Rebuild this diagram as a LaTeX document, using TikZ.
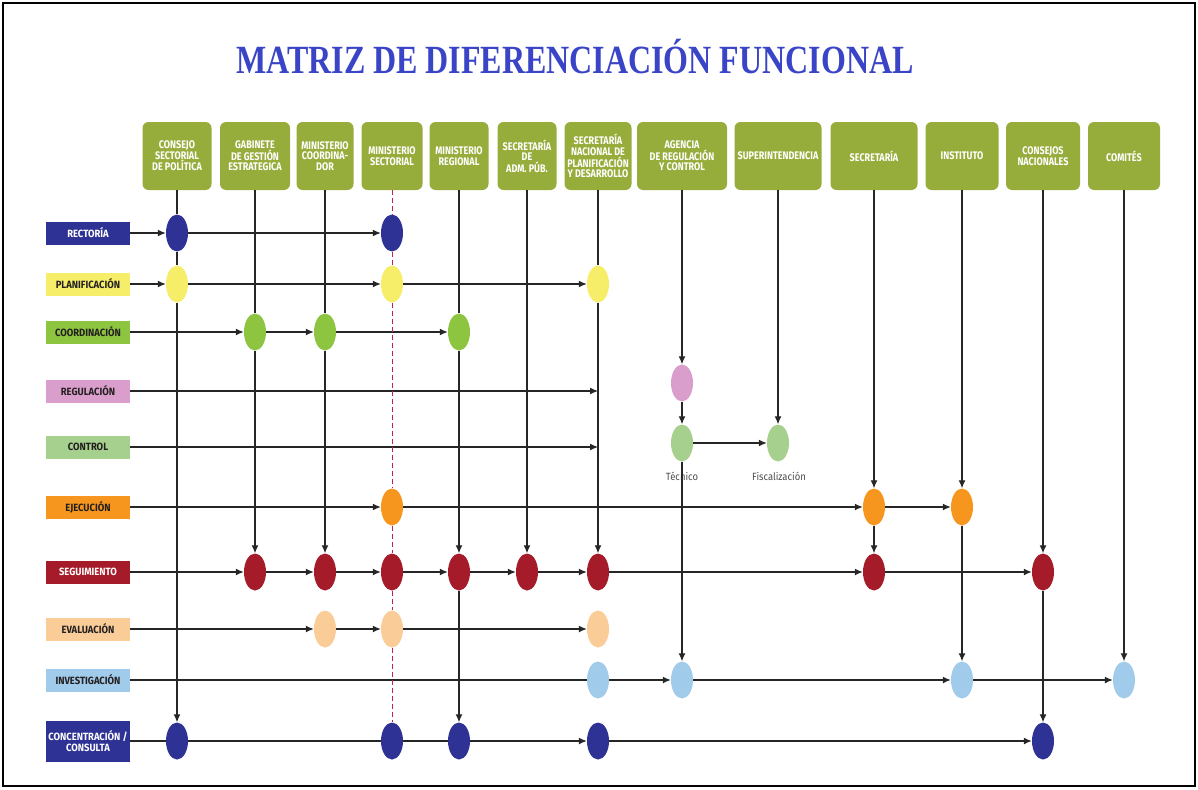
\documentclass[tikz,border=0pt]{standalone}
\usepackage{fontspec}
\setmainfont{Liberation Serif}
\newfontfamily\titlefont[FakeStretch=0.8]{Liberation Serif}
\newfontfamily\headfont[FakeStretch=0.82]{Fira Sans}
\newfontfamily\labfont[FakeStretch=0.9]{Fira Sans}
\usetikzlibrary{arrows.meta,shapes.geometric}
\definecolor{headgreen}{RGB}{151,173,59}
\definecolor{titleblue}{RGB}{58,68,198}
\definecolor{navy}{RGB}{46,50,148}
\definecolor{yell}{RGB}{246,238,105}
\definecolor{cgreen}{RGB}{141,197,64}
\definecolor{pinkc}{RGB}{218,158,204}
\definecolor{lgreen}{RGB}{166,208,142}
\definecolor{orng}{RGB}{246,150,30}
\definecolor{dred}{RGB}{166,27,42}
\definecolor{peach}{RGB}{250,204,152}
\definecolor{lblue}{RGB}{160,203,234}
\definecolor{linegray}{RGB}{38,38,38}
\definecolor{labtext}{RGB}{35,31,32}
\definecolor{sectred}{RGB}{200,35,70}
\begin{document}
\begin{tikzpicture}[x=1pt,y=-1pt,
  head/.style={fill=headgreen,rounded corners=6pt,minimum height=68pt,text=white,
    font=\headfont\bfseries\fontsize{11}{10.5}\selectfont,align=center,inner sep=0pt},
  lab/.style={minimum width=84pt,minimum height=23pt,inner sep=0pt,align=center,
    font=\labfont\bfseries\fontsize{10.5}{11.5}\selectfont},
  dot/.style={ellipse,minimum width=22pt,minimum height=37pt,inner sep=0pt},
  con/.style={draw=linegray,line width=1.2pt},
  arr/.style={con,-{Latex[length=8pt,width=7pt]}},
  mid/.style={draw=sectred,line width=0.9pt,dash pattern=on 5pt off 3pt},
  note/.style={text=black!70,font=\labfont\fontsize{10.5}{12}\selectfont}]
\useasboundingbox (0,0) rectangle (1198,789);
\draw[line width=1.5pt] (3,3) rectangle (1195,786);
\node[text=titleblue,font=\titlefont\bfseries\fontsize{40}{48}\selectfont] (title) at (575,57) {MATRIZ DE DIFERENCIACIÓN FUNCIONAL};
\foreach \n/\x/\w/\t in {1/177/69/{CONSEJO\\SECTORIAL\\DE POLÍTICA},
    2/255/70/{GABINETE\\DE GESTIÓN\\ESTRATEGICA},
    3/325/57/{MINISTERIO\\COORDINA-\\DOR},
    4/392/61/{MINISTERIO\\SECTORIAL},
    5/459/59/{MINISTERIO\\REGIONAL},
    6/527/59/{SECRETARÍA\\DE\\ADM. PÚB.},
    7/598/67/{SECRETARÍA\\NACIONAL DE\\PLANIFICACIÓN\\Y DESARROLLO},
    8/682/90/{AGENCIA\\DE REGULACIÓN\\Y CONTROL},
    9/778/87/{SUPERINTENDENCIA},
    10/874/87/{SECRETARÍA},
    11/962/73/{INSTITUTO},
    12/1043/74/{CONSEJOS\\NACIONALES},
    13/1124/72/{COMITÉS}}
  \node[head,minimum width=\w pt] (h\n) at (\x,156) {\t};
\foreach \n/\y/\c/\tc/\t in {1/233/navy/white/{RECTORÍA},
    2/284/yell/labtext/{PLANIFICACIÓN},
    3/332/cgreen/labtext/{COORDINACIÓN},
    4/391/pinkc/labtext/{REGULACIÓN},
    5/447/lgreen/labtext/{CONTROL},
    6/507/orng/labtext/{EJECUCIÓN},
    7/572/dred/white/{SEGUIMIENTO},
    8/629/peach/labtext/{EVALUACIÓN},
    9/680/lblue/labtext/{INVESTIGACIÓN}}
  \node[lab,fill=\c,text=\tc] (r\n) at (88,\y) {\t};
\node[lab,fill=navy,text=white,minimum height=41pt] (r10) at (88,741) {CONCENTRACIÓN /\\CONSULTA};
\foreach \r/\c/\col in {1/1/navy,1/4/navy,2/1/yell,2/4/yell,2/7/yell,
    3/2/cgreen,3/3/cgreen,3/5/cgreen,6/4/orng,6/10/orng,6/11/orng,
    7/2/dred,7/3/dred,7/4/dred,7/5/dred,7/6/dred,7/7/dred,7/10/dred,7/12/dred,
    8/3/peach,8/4/peach,8/7/peach,9/7/lblue,9/8/lblue,9/11/lblue,9/13/lblue,
    10/1/navy,10/4/navy,10/5/navy,10/7/navy,10/12/navy}
  \node[dot,fill=\col] (e\r-\c) at (h\c |- r\r) {};
\node[dot,fill=pinkc] (e4-8) at (682,383) {};
\node[dot,fill=lgreen] (e5-8) at (682,443) {};
\node[dot,fill=lgreen] (e5-9) at (778,443) {};
\node[note] (tec) at (682,476) {Técnico};
\node[note] (fis) at (779,476) {Fiscalización};
\foreach \a/\b in {h1/e1-1,e1-1/e2-1,h2/e3-2,h3/e3-3,h5/e3-5,h7/e2-7,
    r9/e9-7,r10/e10-1,e10-1/e10-4,e10-4/e10-5}
  \draw[con] (\a) -- (\b);
\foreach \a/\b in {r1/e1-1,e1-1/e1-4,r2/e2-1,e2-1/e2-4,e2-4/e2-7,
    r3/e3-2,e3-2/e3-3,e3-3/e3-5,r6/e6-4,e6-4/e6-10,e6-10/e6-11,
    r7/e7-2,e7-2/e7-3,e7-3/e7-4,e7-4/e7-5,e7-5/e7-6,e7-6/e7-7,e7-7/e7-10,e7-10/e7-12,
    r8/e8-3,e8-3/e8-4,e8-4/e8-7,e9-7/e9-8,e9-8/e9-11,e9-11/e9-13,
    e10-5/e10-7,e10-7/e10-12,e5-8/e5-9,
    e2-1/e10-1,e3-2/e7-2,e3-3/e7-3,e3-5/e7-5,e7-5/e10-5,h6/e7-6,e2-7/e7-7,
    h8/e4-8,e4-8/e5-8,e5-8/e9-8,h9/e5-9,h10/e6-10,e6-10/e7-10,
    h11/e6-11,e6-11/e9-11,h12/e7-12,e7-12/e10-12,h13/e9-13}
  \draw[arr] (\a) -- (\b);
\draw[arr] (r4) -- (r4 -| h7);
\draw[arr] (r5) -- (r5 -| h7);
\foreach \a/\b in {h4/e1-4,e1-4/e2-4,e2-4/e6-4,e6-4/e7-4,e7-4/e8-4,e8-4/e10-4}
  \draw[mid] (\a) -- (\b);
\end{tikzpicture}
\end{document}
